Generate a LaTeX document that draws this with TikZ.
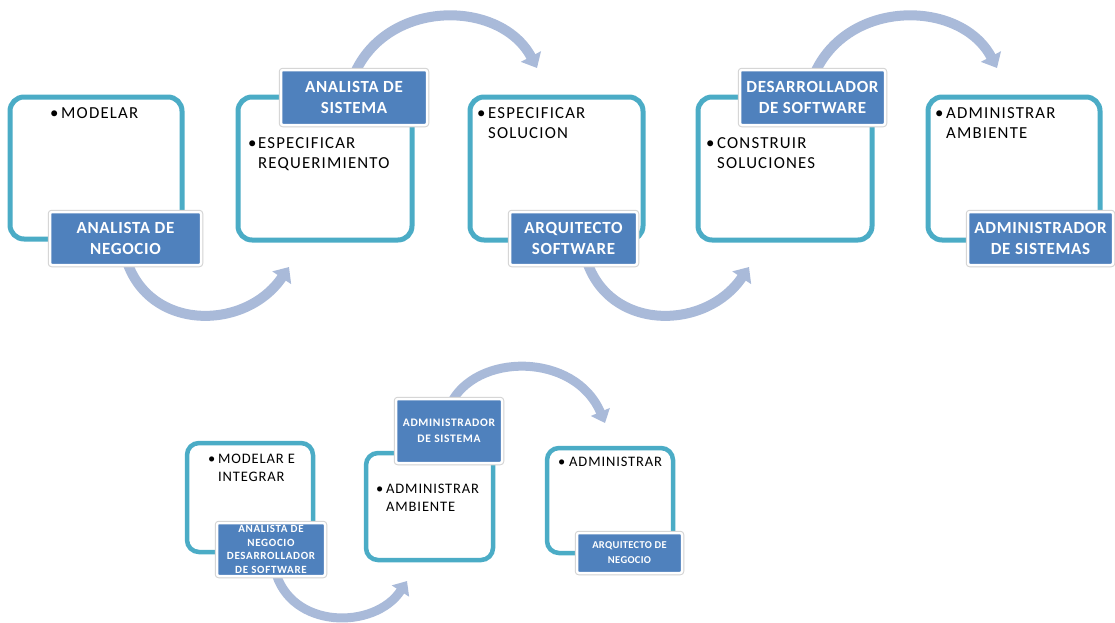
\documentclass[tikz,border=0pt]{standalone}
\usepackage{fontspec}
\setmainfont{Carlito}
\newfontfamily\spA[LetterSpace=7]{Carlito}
\newfontfamily\spB[LetterSpace=4]{Carlito}
\newfontfamily\spC[LetterSpace=6]{Carlito}
\newfontfamily\spD[LetterSpace=3]{Carlito}
\usetikzlibrary{arrows.meta}
\definecolor{boxteal}{HTML}{4BACC6}
\definecolor{labblue}{HTML}{4F81BD}
\definecolor{arrowblue}{HTML}{A9BAD9}
\tikzset{
  box/.style={draw=boxteal, line width=5pt, rounded corners=14pt, fill=white, inner sep=0pt},
  sbox/.style={box, line width=4.5pt, rounded corners=12pt},
  lab/.style={fill=labblue, draw=white, line width=2.5pt, rounded corners=2pt,
    preaction={draw=black!18, line width=4.5pt}, text=white, align=center, inner sep=0pt,
    font=\spB\bfseries\fontsize{17}{20.5}\selectfont},
  slab/.style={lab, font=\spC\bfseries\fontsize{11}{13.7}\selectfont},
  txt/.style={anchor=base west, align=left, inner sep=0pt, font=\spA\fontsize{16.8}{20}\selectfont},
  stxt/.style={txt, font=\spC\fontsize{14.5}{18.5}\selectfont},
  flow/.style={draw=arrowblue, line width=10pt, -{Triangle[width=22pt,length=13pt]}},
  sflow/.style={draw=arrowblue, line width=9pt, -{Triangle[width=20pt,length=12pt]}}
}
\newcommand{\bl}[1]{\makebox[#1][l]{•}}
\begin{document}
\begin{tikzpicture}[x=1pt,y=-1pt]
\useasboundingbox (0,0) rectangle (1115,622);
% boxes
\node[box, minimum width=172pt, minimum height=142pt] (b1) at (96,168) {};
\node[box, minimum width=174pt, minimum height=143pt] (b2) at (325,168.5) {};
\node[box, minimum width=173pt, minimum height=143pt] (b3) at (556.5,168.5) {};
\node[box, minimum width=174pt, minimum height=143pt] (b4) at (785,168.5) {};
\node[box, minimum width=172pt, minimum height=143pt] (b5) at (1014,168.5) {};
\node[sbox, minimum width=126pt, minimum height=109pt] (b6) at (250,497.5) {};
\node[sbox, minimum width=127pt, minimum height=107pt] (b7) at (429.5,506.5) {};
\node[sbox, minimum width=126pt, minimum height=105pt] (b8) at (610,500.5) {};
% texts (anchor = baseline of last line)
\node[txt] (t1) at (50,118.5) {\bl{11pt}MODELAR};
\node[txt] (t2) at (248,168.5) {\bl{10pt}ESPECIFICAR\\\hspace*{10pt}REQUERIMIENTO};
\node[txt] (t3) at (477,138.5) {\bl{11pt}ESPECIFICAR\\\hspace*{11pt}SOLUCION};
\node[txt] (t4) at (706,168.5) {\bl{11pt}CONSTRUIR\\\hspace*{11pt}SOLUCIONES};
\node[txt] (t5) at (935,138.5) {\bl{11pt}ADMINISTRAR\\\hspace*{11pt}AMBIENTE};
\node[stxt] (t6) at (208,481.5) {\bl{10pt}MODELAR E\\\hspace*{10pt}INTEGRAR};
\node[stxt] (t7) at (376,511.5) {\bl{10pt}ADMINISTRAR\\\hspace*{10pt}AMBIENTE};
\node[stxt] (t8) at (558,466) {\bl{11pt}ADMINISTRAR};
% arrow anchor coordinates
\coordinate (a1s) at (125,255);  \coordinate (a1e) at (289,267);
\coordinate (a2s) at (352,80);   \coordinate (a2e) at (537,68);
\coordinate (a3s) at (585,255);  \coordinate (a3e) at (749,267);
\coordinate (a4s) at (812,80);   \coordinate (a4e) at (997,68);
\coordinate (a5s) at (275,570);  \coordinate (a5e) at (407,581);
\coordinate (a6s) at (450,405);  \coordinate (a6e) at (605,423);
% arrows
\draw[flow] (a1s) .. controls (145,332) and (245,332) .. (a1e);
\draw[flow] (a2s) .. controls (382,-2) and (500,-2) .. (a2e);
\draw[flow] (a3s) .. controls (605,332) and (705,332) .. (a3e);
\draw[flow] (a4s) .. controls (842,-2) and (960,-2) .. (a4e);
\draw[sflow] (a5s) .. controls (290,630) and (375,630) .. (a5e);
\draw[sflow] (a6s) .. controls (475,352) and (575,352) .. (a6e);
% labels
\node[lab, minimum width=151pt, minimum height=53pt] (l1) at (125.5,238.5) {ANALISTA DE\\NEGOCIO};
\node[lab, minimum width=146pt, minimum height=55pt] (l2) at (354,97.5) {ANALISTA DE\\SISTEMA};
\node[lab, minimum width=127pt, minimum height=53pt] (l3) at (573.5,238.5) {ARQUITECTO\\SOFTWARE};
\node[lab, minimum width=145pt, minimum height=55pt] (l4) at (812.5,97.5) {DESARROLLADOR\\DE SOFTWARE};
\node[lab, minimum width=145pt, minimum height=53pt] (l5) at (1040.5,238.5) {ADMINISTRADOR\\DE SISTEMAS};
\node[slab, minimum width=108pt, minimum height=53pt] (l6) at (271,549.5) {ANALISTA DE\\NEGOCIO\\DESARROLLADOR\\DE SOFTWARE};
\node[slab, font=\spC\bfseries\fontsize{11.5}{16}\selectfont, minimum width=106pt, minimum height=64pt] (l7) at (449,431) {ADMINISTRADOR\\DE SISTEMA};
\node[slab, font=\spD\bfseries\fontsize{10.5}{15}\selectfont, minimum width=105pt, minimum height=40pt] (l8) at (629.5,553) {ARQUITECTO DE\\NEGOCIO};
\end{tikzpicture}
\end{document}
